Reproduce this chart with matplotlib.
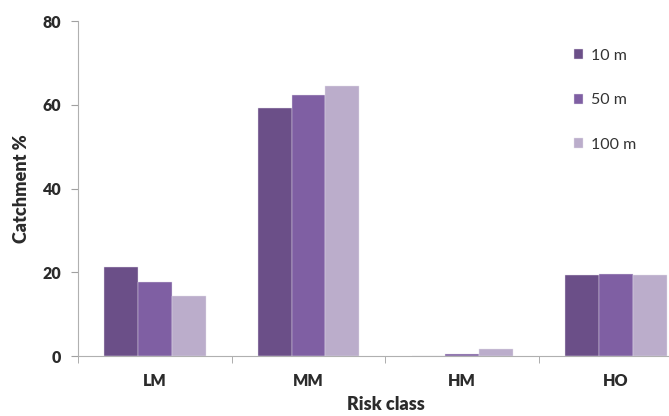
import numpy as np
import matplotlib.pyplot as plt

plt.rcParams['font.family'] = ['Lato', 'DejaVu Sans']

# données
classes = ["LM", "MM", "HM", "HO"]
d10 = [21.3, 59.2, 0.0, 19.3]
d50 = [17.8, 62.3, 0.5, 19.5]
d100 = [14.3, 64.6, 1.6, 19.3]
labels = ["10 m", "50 m", "100 m"]
couleurs = ["#6B4F88", "#7F5FA3", "#BBADCB"]

fig = plt.figure(figsize=(6.69, 4.16), dpi=100)
ax = fig.add_axes([0.1166, 0.144, 0.919, 0.8055])

x = np.arange(len(classes))
w = 0.22
for k, (serie, lab, c) in enumerate(zip([d10, d50, d100], labels, couleurs)):
    ax.bar(x + (k - 1) * w, serie, width=w, color=c, label=lab,
           edgecolor="#e4deeb", linewidth=0.3)

ax.set_xlim(-0.5, 3.5)
ax.set_ylim(0, 80)
ax.set_yticks([0, 20, 40, 60, 80])
ax.set_xticks(x)
ax.set_xticklabels(classes)
ax.set_xticks(np.arange(-0.5, 4, 1), minor=True)
ax.tick_params(axis="x", which="major", length=0, pad=12)
ax.tick_params(axis="x", which="minor", length=5, color="#a0a0a0")
ax.tick_params(axis="y", length=5, color="#a0a0a0", pad=7)
for t in ax.get_xticklabels() + ax.get_yticklabels():
    t.set_fontweight("heavy")
    t.set_fontsize(11.5)
    t.set_color("#2b2b2b")

for s in ["top", "right"]:
    ax.spines[s].set_visible(False)
for s in ["left", "bottom"]:
    ax.spines[s].set_color("#b0b0b0")

ax.set_ylabel("Catchment %", fontsize=13, fontweight="heavy", color="#2b2b2b", labelpad=9)
ax.set_xlabel("Risk class", fontsize=13, fontweight="heavy", color="#2b2b2b", labelpad=5)

leg = ax.legend(loc="upper left", bbox_to_anchor=(0.836, 0.917), bbox_transform=fig.transFigure,
                frameon=False, fontsize=11.5, labelspacing=1.9, handlelength=0.6,
                handleheight=0.6, handletextpad=0.5)
for t in leg.get_texts():
    t.set_color("#333333")

plt.savefig("out.png", dpi=100)
